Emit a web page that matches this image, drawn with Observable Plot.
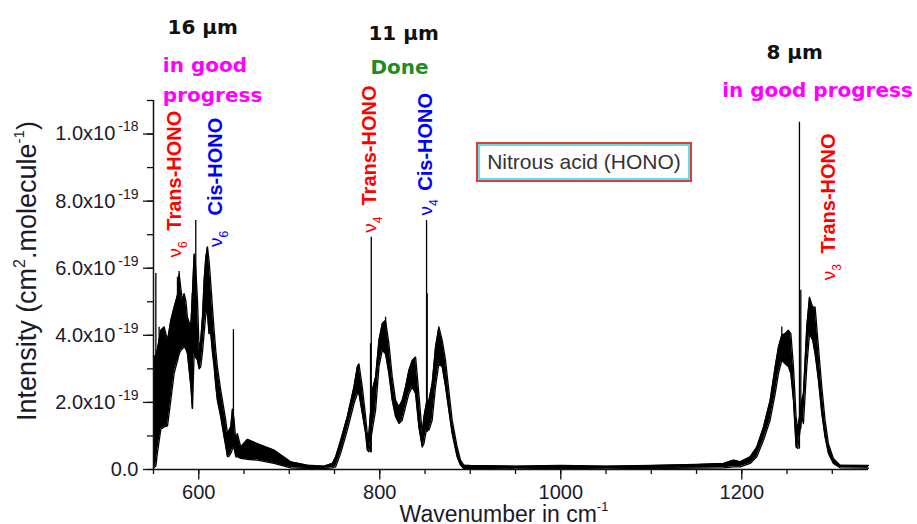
<!DOCTYPE html>
<html><head><meta charset="utf-8">
<script src="https://cdn.jsdelivr.net/npm/d3@7"></script>
<script src="https://cdn.jsdelivr.net/npm/@observablehq/plot@0.6"></script>
<style>
body{margin:0;background:#fff;}
#wrap{position:relative;width:917px;height:524px;overflow:hidden;background:#fff;}
#wrap svg{position:absolute;left:0;top:0;}
#legend{position:absolute;left:476px;top:142px;width:212px;height:36px;border:2px solid #e8383d;box-shadow:inset 0 0 0 2px #54e6e6;
 font:21px "Liberation Sans",Arial,sans-serif;color:#333;display:flex;align-items:center;justify-content:center;z-index:2;}
</style></head><body>
<div id="wrap"><div id="legend">Nitrous acid (HONO)</div></div>
<script>
// ---- spectrum envelope (intensity in 1e-19 cm2/molecule) ----
const wavenumber = [550.0,552.6,554.4,558.1,561.8,565.5,569.1,572.8,576.5,578.3,580.2,582.0,583.8,585.7,587.5,591.2,593.0,594.9,596.7,598.6,
 600.4,602.2,604.1,605.9,607.8,609.6,611.4,613.3,615.1,617.0,618.8,620.6,624.3,628.0,629.8,631.7,633.5,635.4,637.2,639.0,
 640.9,642.7,646.4,653.8,664.8,683.2,701.6,720.0,738.4,747.6,751.3,756.8,764.1,771.5,775.2,777.0,780.7,784.4,786.2,788.0,
 791.7,795.4,799.1,802.8,806.4,810.1,813.8,817.5,821.2,824.8,828.5,832.2,835.9,839.6,843.2,846.9,848.8,851.7,854.3,857.9,
 861.6,865.3,869.0,872.7,876.3,880.0,885.5,889.2,892.9,900,950,1000,1050,1100,1150,1180,1191,1198.2,1209.3,1216.6,
 1224.0,1231.3,1236.9,1240.5,1244.2,1247.9,1251.6,1254.2,1257.1,1260.0,1261.9,1266.3,1268.1,1271.8,1274.8,1278.4,1281.0,1284.7,1288.4,1292.0,
 1295.7,1301.2,1308.6,1340];
const upperEnvelope = [3.35,3.40,3.60,4.15,4.25,3.85,4.44,4.84,5.20,5.83,5.40,5.04,5.24,5.04,4.54,4.25,5.24,6.43,6.00,5.04,
 3.55,3.85,4.54,5.63,6.33,6.63,6.23,5.54,4.84,4.15,3.55,3.06,2.36,1.77,1.47,1.07,1.17,1.27,1.80,1.50,
 0.87,1.07,0.67,0.90,0.77,0.58,0.23,0.13,0.10,0.18,0.38,0.87,1.57,2.46,3.06,3.15,2.46,1.57,1.07,1.07,
 2.36,2.76,3.85,4.35,4.44,3.75,2.76,2.06,1.87,2.06,2.46,2.96,3.25,3.35,2.26,1.07,1.57,2.00,2.06,2.56,
 3.65,4.25,3.85,3.25,2.36,1.47,0.67,0.28,0.13,0.12,0.10,0.12,0.10,0.12,0.15,0.18,0.28,0.23,0.38,0.67,
 1.27,2.06,3.06,3.65,4.00,4.05,4.15,4.05,3.06,1.57,1.20,2.06,2.26,4.25,5.14,4.84,4.84,3.65,2.46,1.47,
 0.77,0.33,0.13,0.12];
const lowerEnvelope = [0.05,0.10,0.50,1.20,1.27,1.30,2.06,2.86,3.25,3.45,3.55,3.60,3.65,3.60,3.45,2.50,1.82,3.45,3.35,3.25,
 3.00,3.06,3.50,4.05,4.64,4.64,4.05,4.05,3.50,3.06,2.50,2.06,1.57,0.97,0.70,0.38,0.40,0.48,0.60,0.67,
 0.38,0.38,0.33,0.30,0.28,0.18,0.05,0.03,0.03,0.05,0.08,0.48,1.17,1.96,2.26,2.26,1.67,1.07,0.58,0.53,
 1.17,1.77,3.06,3.55,3.45,2.86,2.06,1.57,1.37,1.47,1.87,2.26,2.46,2.26,1.27,0.67,0.77,1.20,1.17,1.47,
 2.46,3.15,3.06,2.46,1.77,1.07,0.38,0.13,0.03,0.03,0.02,0.03,0.02,0.03,0.04,0.05,0.08,0.08,0.18,0.38,
 0.87,1.47,2.26,2.86,3.25,3.15,3.06,2.86,2.06,0.67,0.63,1.57,1.37,3.06,4.05,3.85,3.45,2.66,1.67,0.97,
 0.48,0.18,0.05,0.04];
// isolated sharp lines
const lineWn   = [552.6,556.2,576.5,578.3,593.0,596.7,609.6,638.3,789.8,790.6,806.4,851.7,852.4,1244.2,1263.7,1265.2];
const lineBase = [0.5,1.0,3.2,3.4,1.8,3.3,4.6,0.6,0.5,0.5,3.4,1.1,1.1,3.2,0.6,1.2];
const lineTop  = [5.84,4.24,5.73,5.90,5.24,7.42,6.63,4.17,3.75,6.92,4.54,7.42,5.24,4.25,10.35,5.34];

// ---- axes ----
const xTicks = [600,800,1000,1200];
const xMinorTicks = [550,600,650,700,750,800,850,900,950,1000,1050,1100,1150,1200,1250,1300];
const yTicks = [0,2e-19,4e-19,6e-19,8e-19,1e-18];
const yTickLabels = ["0.0","2.0x10^-19","4.0x10^-19","6.0x10^-19","8.0x10^-19","1.0x10^-18"];
const yMinorTicks = [0,1e-19,2e-19,3e-19,4e-19,5e-19,6e-19,7e-19,8e-19,9e-19,1e-18,1.1e-18];

// ---- annotations ----
const bandTitles = ["16 µm","11 µm","8 µm"];
const bandTitleWn = [604.4,826.3,1258.4];
const bandTitleY = [13.16,12.99,12.42];
const statusText = ["in good","progress","Done","in good progress"];
const statusWn = [560.3,560.3,821.9,1178.4];
const statusY = [12.03,11.14,11.97,11.29];
const statusColor = ["#ff00ff","#ff00ff","#1e8c1e","#ff00ff"];
const statusAnchor = ["start","start","middle","start"];
const modeNames = ["Trans-HONO","Cis-HONO","Trans-HONO","Cis-HONO","Trans-HONO"];
const modeSymbols = ["ν6","ν6","ν4","ν4","ν3"];
const modeWn = [580.1,626.2,795.4,857.9,1303.1];
const modeNameY = [7.12,7.57,7.87,8.31,6.44];
const modeSymbolY = [6.32,6.63,7.06,7.57,5.64];
const modeColor = ["#ff0000","#0000ff","#ff0000","#0000ff","#ff0000"];

const E = 1e-19;
const spectrum = wavenumber.map((w,i)=>({w, lo: lowerEnvelope[i]*E, hi: upperEnvelope[i]*E}));
const lines = lineWn.map((w,i)=>({w, b: lineBase[i]*E, t: lineTop[i]*E}));
const titles = bandTitles.map((t,i)=>({t, w: bandTitleWn[i], v: bandTitleY[i]*E}));
const status = statusText.map((t,i)=>({t, w: statusWn[i], v: statusY[i]*E, c: statusColor[i], a: statusAnchor[i]}));
const modes = modeNames.map((t,i)=>({t, s: modeSymbols[i], w: modeWn[i], vn: modeNameY[i]*E, vs: modeSymbolY[i]*E, c: modeColor[i]}));

const SANS = "Liberation Sans, Arial, sans-serif";
const DJ = "DejaVu Sans, Verdana, sans-serif";

const plot = Plot.plot({
  width: 917, height: 524,
  marginLeft: 153, marginRight: 49, marginTop: 100, marginBottom: 55,
  style: {fontFamily: SANS, fontSize: "20px", background: "transparent", overflow: "visible", color: "#111"},
  x: {domain: [550, 1340]},
  y: {domain: [0, 1.1e-18]},
  marks: [
    Plot.areaY(spectrum, {x: "w", y1: "lo", y2: "hi", fill: "#000"}),
    Plot.lineY(spectrum, {x: "w", y: "hi", stroke: "#000", strokeWidth: 1.3}),
    Plot.lineY(spectrum, {x: "w", y: "lo", stroke: "#000", strokeWidth: 1.3}),
    Plot.ruleX(lines, {x: "w", y1: "b", y2: "t", stroke: "#000", strokeWidth: 1.3}),
    Plot.axisX({ticks: xMinorTicks, tickSize: 5, fill: "none", label: null, stroke: "#111", strokeWidth: 1.3}),
    Plot.axisX({ticks: xTicks, tickSize: 10.5, tickPadding: 5, tickFormat: d => String(d), label: null, fontSize: 20, fill: "#1a1a2a", stroke: "#111", strokeWidth: 1.3}),
    Plot.axisY({ticks: yMinorTicks, tickSize: 6, fill: "none", label: null, stroke: "#111", strokeWidth: 1.3}),
    Plot.axisY({ticks: yTicks, tickSize: 10, tickPadding: 5, tickFormat: d => yTickLabels[yTicks.indexOf(d)], label: null, fontSize: 20, fill: "#1a1a2a", stroke: "#111", strokeWidth: 1.3}),
    Plot.ruleY([0], {stroke: "#111", strokeWidth: 1.5}),
    Plot.ruleX([550], {stroke: "#111", strokeWidth: 1.5}),
    Plot.text(["Wavenumber in cm^-1"], {frameAnchor: "bottom", text: d => d, dx: -7, dy: 52, lineAnchor: "bottom", fontSize: 23, fill: "#1a1a2a"}),
    Plot.text(["Intensity (cm^2.molecule^-1)"], {frameAnchor: "left", text: d => d, rotate: -90, textAnchor: "middle", dx: -126, dy: -14, lineAnchor: "middle", fontSize: 27, fill: "#1a1a2a"}),
    Plot.text(titles, {x: "w", y: "v", text: "t", fontFamily: DJ, fontWeight: "bold", fontSize: 20, fill: "#111", clip: false}),
    Plot.text(status.filter(d => d.a === "start"), {x: "w", y: "v", text: "t", fill: "c", textAnchor: "start", fontFamily: DJ, fontWeight: "bold", fontSize: 20, clip: false}),
    Plot.text(status.filter(d => d.a === "middle"), {x: "w", y: "v", text: "t", fill: "c", textAnchor: "middle", fontFamily: DJ, fontWeight: "bold", fontSize: 20, clip: false}),
    Plot.text(modes, {x: "w", y: "vn", text: "t", fill: "c", rotate: -90, textAnchor: "start", lineAnchor: "bottom", fontWeight: "bold", fontSize: 20}),
    Plot.text(modes, {x: "w", y: "vs", text: "s", fill: "c", rotate: -90, textAnchor: "start", lineAnchor: "bottom", fontSize: 19})
  ]
});

document.getElementById("wrap").prepend(plot);

// ---- rich text: superscripts / subscripts as tspans ----
const NS = "http://www.w3.org/2000/svg";
function richText(el, parts) {
  el.textContent = "";
  let shift = 0;
  for (const [s, off, size, dx] of parts) {
    const ts = document.createElementNS(NS, "tspan");
    ts.setAttribute("dy", off - shift); shift = off;
    if (dx) ts.setAttribute("dx", dx);
    if (size) ts.setAttribute("font-size", size);
    ts.textContent = s;
    el.appendChild(ts);
  }
}
plot.querySelectorAll('g[aria-label="x-axis tick label"], g[aria-label="y-axis tick label"]').forEach(g => {
  g.setAttribute("font-size", "20");
  g.querySelectorAll("text").forEach(t => t.setAttribute("font-size", "20"));
});
plot.querySelectorAll("text").forEach(el => {
  const s = el.textContent;
  let m;
  if ((m = s.match(/^(\d\.\dx10)\^(-\d+)$/))) richText(el, [[m[1], 0], [m[2], -9, 14, 3]]);
  else if ((m = s.match(/^ν(\d)$/))) richText(el, [["ν", 0], [m[1], 6, 12]]);
  else if (s === "Wavenumber in cm^-1") richText(el, [["Wavenumber in cm", 0], ["-1", -11, 13]]);
  else if (s === "Intensity (cm^2.molecule^-1)") richText(el, [["Intensity (cm", 0], ["2", -11, 16], [".molecule", 0], ["-1", -12, 15], [")", 0]]);
});
</script>
</body></html>
